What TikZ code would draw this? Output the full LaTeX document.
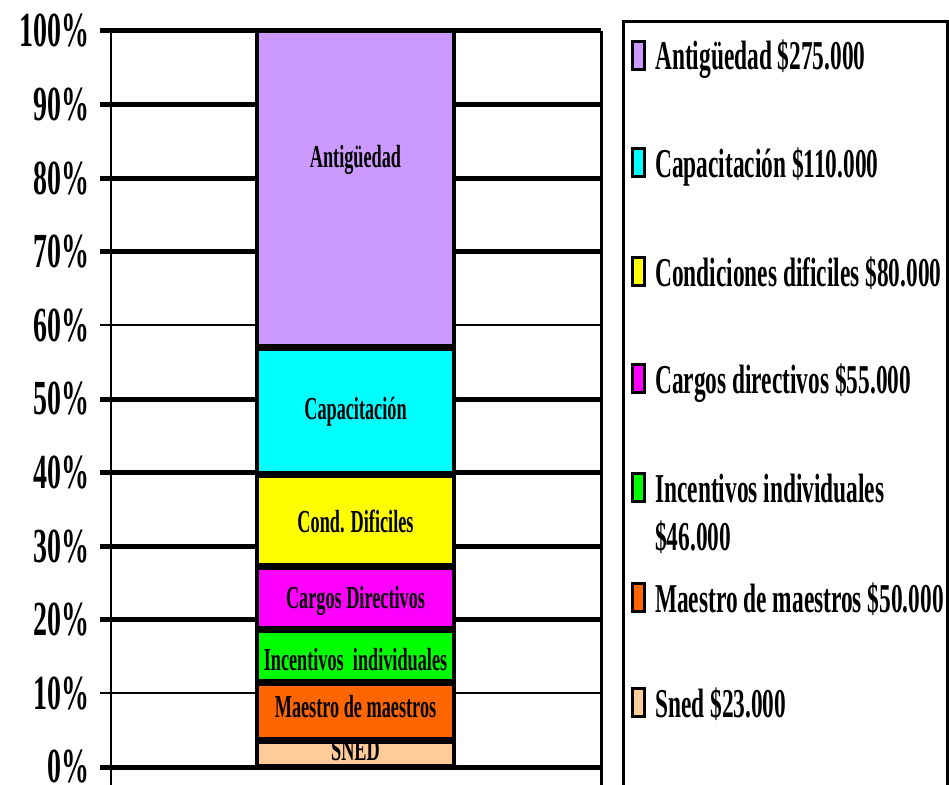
\documentclass[tikz,border=0pt]{standalone}
\usepackage{fontspec}
\setmainfont{Liberation Serif}[FakeStretch=0.57]
\usetikzlibrary{calc}
\definecolor{antigPurple}{HTML}{CC99FF}
\definecolor{capacCyan}{HTML}{00FFFF}
\definecolor{condYellow}{HTML}{FFFF00}
\definecolor{cargosMagenta}{HTML}{FF00FF}
\definecolor{incentGreen}{HTML}{00FF00}
\definecolor{maestroOrange}{HTML}{FF6600}
\definecolor{snedPeach}{HTML}{FFCC99}
\tikzset{
	segment/.style={draw=black, line width=3.5pt},
	gridthick/.style={line width=5pt},
	gridthin/.style={line width=2pt},
	axislabel/.style={anchor=east, inner sep=0pt, font=\fontsize{49}{49}\selectfont\bfseries},
	barlabel/.style={anchor=base, inner sep=0pt, font=\fontsize{32}{32}\selectfont\bfseries},
	legmark/.style={draw=black, line width=3pt, inner sep=0pt, minimum width=12pt, minimum height=28pt},
	legtext/.style={anchor=base west, inner sep=0pt, font=\fontsize{41}{41}\selectfont\bfseries}
}

\begin{document}
\begin{tikzpicture}[x=1pt, y=-1pt]
	\useasboundingbox (0,0) rectangle (949,784);
	\clip (0,0) rectangle (949,784);

	\coordinate (barL) at (257,0);
	\coordinate (barR) at (454,0);

	% grid and frame
	\foreach \k in {0,2,3,4,5,7,8,9,10}
		\draw[gridthick] (100,{767-73.6*\k}) -- (601,{767-73.6*\k});
	\foreach \k in {1,6}
		\draw[gridthin] (100,{767-73.6*\k}) -- (601,{767-73.6*\k});
	\draw[line width=2pt] (111,31) -- (111,800);
	\draw[line width=3pt] (601,31) -- (601,800);

	\foreach \k in {0,...,10}{
		\pgfmathtruncatemacro\pc{10*\k}
		\node[axislabel] (tick\k) at (90,{767-73.6*\k}) {\pc\%};
	}

	% stacked bar
	\draw[segment, fill=snedPeach]     (257,742.25) rectangle (454,765.25);
	\draw[segment, fill=maestroOrange] (257,684.65) rectangle (454,738.75);
	\draw[segment, fill=incentGreen]   (257,631.65) rectangle (454,681.15);
	\draw[segment, fill=cargosMagenta] (257,568.35) rectangle (454,628.15);
	\draw[segment, fill=condYellow]    (257,476.15) rectangle (454,564.85);
	\draw[segment, fill=capacCyan]     (257,349.45) rectangle (454,472.65);
	\draw[segment, fill=antigPurple]   (257,31)     rectangle (454,345.95);

	\node[barlabel] (lbAntig)   at (355.5,167) {Antigüedad};
	\node[barlabel] (lbCapac)   at (355.5,419) {Capacitación};
	\node[barlabel] (lbCond)    at (355.5,532) {Cond. Dificiles};
	\node[barlabel] (lbCargos)  at (355.5,608) {Cargos Directivos};
	\node[barlabel] (lbIncent)  at (355.5,670) {Incentivos\ \ individuales};
	\node[barlabel] (lbMaestro) at (355.5,717) {Maestro de maestros};
	\node[barlabel] (lbSned)    at (355.5,760) {SNED};

	% legend
	\draw[line width=3pt] (623,22) rectangle (947,820);

	\node[legmark, fill=antigPurple]   (mkAntig)   at (638.5,55.5)  {};
	\node[legmark, fill=capacCyan]     (mkCapac)   at (638.5,162.5) {};
	\node[legmark, fill=condYellow]    (mkCond)    at (638.5,271.5) {};
	\node[legmark, fill=cargosMagenta] (mkCargos)  at (638.5,378.5) {};
	\node[legmark, fill=incentGreen]   (mkIncent)  at (638.5,487.5) {};
	\node[legmark, fill=maestroOrange] (mkMaestro) at (638.5,597.5) {};
	\node[legmark, fill=snedPeach]     (mkSned)    at (638.5,702.5) {};

	\node[legtext] (lgAntig)   at (655,70)  {Antigüedad \$275.000};
	\node[legtext] (lgCapac)   at (655,177) {Capacitación \$110.000};
	\node[legtext] (lgCond)    at (655,286) {Condiciones dificiles \$80.000};
	\node[legtext] (lgCargos)  at (655,393) {Cargos directivos \$55.000};
	\node[legtext] (lgIncent)  at (655,502) {Incentivos individuales};
	\node[legtext] (lgIncentB) at (655,550) {\$46.000};
	\node[legtext] (lgMaestro) at (655,612) {Maestro de maestros \$50.000};
	\node[legtext] (lgSned)    at (655,717) {Sned \$23.000};
\end{tikzpicture}
\end{document}
